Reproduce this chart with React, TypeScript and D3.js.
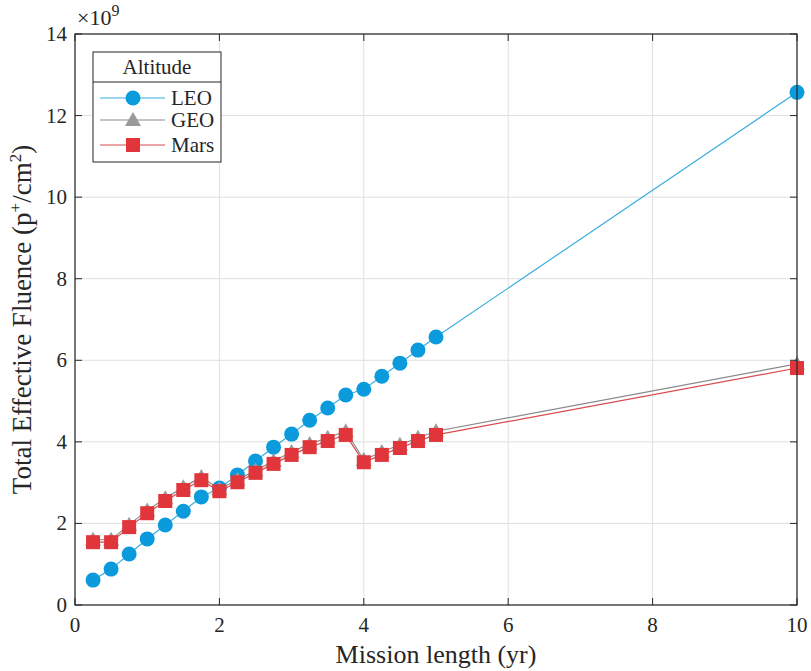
import React from "react";
import * as d3 from "d3";

const years = [0.25, 0.5, 0.75, 1, 1.25, 1.5, 1.75, 2, 2.25, 2.5, 2.75, 3, 3.25, 3.5, 3.75, 4, 4.25, 4.5, 4.75, 5, 10];
const leo = [0.61, 0.88, 1.25, 1.62, 1.96, 2.30, 2.65, 2.87, 3.19, 3.53, 3.87, 4.19, 4.53, 4.83, 5.15, 5.29, 5.61, 5.93, 6.25, 6.57, 12.57];
const geo = [1.60, 1.60, 1.97, 2.32, 2.62, 2.89, 3.14, 2.84, 3.07, 3.30, 3.53, 3.75, 3.95, 4.10, 4.26, 3.56, 3.75, 3.93, 4.10, 4.26, 5.91];
const mars = [1.54, 1.54, 1.91, 2.25, 2.55, 2.82, 3.06, 2.79, 3.01, 3.24, 3.46, 3.68, 3.87, 4.02, 4.17, 3.50, 3.68, 3.85, 4.02, 4.17, 5.81];
const xTicks = [0, 2, 4, 6, 8, 10];
const yTicks = [0, 2, 4, 6, 8, 10, 12, 14];
const seriesNames = ["LEO", "GEO", "Mars"];
const seriesColors = ["#0b9bdc", "#9a9a9a", "#e0353a"];
const lineColors = ["#3aaede", "#8a8a8a", "#d84a4e"];

const FONT = "'Liberation Serif', 'Times New Roman', serif";

export default function App() {
  const left = 75, right = 797, top = 34, bottom = 605;
  const x = d3.scaleLinear().domain([0, 10]).range([left, right]);
  const y = d3.scaleLinear().domain([0, 14]).range([bottom, top]);
  const all = [leo, geo, mars];
  const line = d3.line<number>().x((_, i) => x(years[i])).y((d) => y(d));

  const marker = (k: number, cx: number, cy: number, key: string | number) => {
    const c = seriesColors[k];
    if (k === 0) return <circle key={key} cx={cx} cy={cy} r={7.5} fill={c} />;
    if (k === 1) {
      const s = 8;
      return <path key={key} d={`M${cx},${cy - s}L${cx + s},${cy + s * 0.75}L${cx - s},${cy + s * 0.75}Z`} fill={c} />;
    }
    return <rect key={key} x={cx - 7} y={cy - 7} width={14} height={14} fill={c} />;
  };

  return (
    <svg width={811} height={671} style={{ position: "absolute", left: 0, top: 0, background: "#fff" }} fontFamily={FONT}>
      <rect x={0} y={0} width={811} height={671} fill="#fff" />
      {xTicks.map((t) => (
        <line key={"gx" + t} x1={x(t)} x2={x(t)} y1={top} y2={bottom} stroke="#dfdfdf" strokeWidth={1} />
      ))}
      {yTicks.map((t) => (
        <line key={"gy" + t} x1={left} x2={right} y1={y(t)} y2={y(t)} stroke="#dfdfdf" strokeWidth={1} />
      ))}
      {all.map((vals, k) => (
        <g key={"s" + k}>
          <path d={line(vals) || ""} fill="none" stroke={lineColors[k]} strokeWidth={1.2} />
          {vals.map((v, i) => marker(k, x(years[i]), y(v), i))}
        </g>
      ))}
      <rect x={left} y={top} width={right - left} height={bottom - top} fill="none" stroke="#262626" strokeWidth={1.2} />
      {xTicks.map((t) => (
        <g key={"tx" + t}>
          <line x1={x(t)} x2={x(t)} y1={bottom} y2={bottom - 7} stroke="#262626" />
          <line x1={x(t)} x2={x(t)} y1={top} y2={top + 7} stroke="#262626" />
          <text x={x(t)} y={bottom + 27} textAnchor="middle" fontSize={21} fill="#262626">{t}</text>
        </g>
      ))}
      {yTicks.map((t) => (
        <g key={"ty" + t}>
          <line x1={left} x2={left + 7} y1={y(t)} y2={y(t)} stroke="#262626" />
          <line x1={right} x2={right - 7} y1={y(t)} y2={y(t)} stroke="#262626" />
          <text x={left - 8} y={y(t) + 7} textAnchor="end" fontSize={21} fill="#262626">{t}</text>
        </g>
      ))}
      <text x={77} y={25} fontSize={22} fill="#262626">
        ×10<tspan dy={-9} fontSize={16}>9</tspan>
      </text>
      <text x={(left + right) / 2} y={663} textAnchor="middle" fontSize={26} fill="#262626">Mission length (yr)</text>
      <text transform={`translate(31,${(top + bottom) / 2}) rotate(-90)`} textAnchor="middle" fontSize={27} fill="#262626">
        Total Effective Fluence (p<tspan dy={-10} fontSize={17}>+</tspan><tspan dy={10}>/cm</tspan><tspan dy={-10} fontSize={17}>2</tspan><tspan dy={10}>)</tspan>
      </text>
      <g>
        <rect x={93} y={52} width={128} height={110} fill="#fff" stroke="#262626" strokeWidth={1} />
        <line x1={93} x2={221} y1={82} y2={82} stroke="#262626" strokeWidth={1} />
        <text x={157} y={74} textAnchor="middle" fontSize={21} fill="#262626">Altitude</text>
        {seriesNames.map((n, k) => {
          const ly = [98, 120, 145][k];
          return (
            <g key={"lg" + k}>
              <line x1={100} x2={165} y1={ly} y2={ly} stroke={lineColors[k]} strokeWidth={1.2} />
              {marker(k, 133, ly, "m")}
              <text x={171} y={ly + 7} fontSize={21} fill="#262626">{n}</text>
            </g>
          );
        })}
      </g>
    </svg>
  );
}
